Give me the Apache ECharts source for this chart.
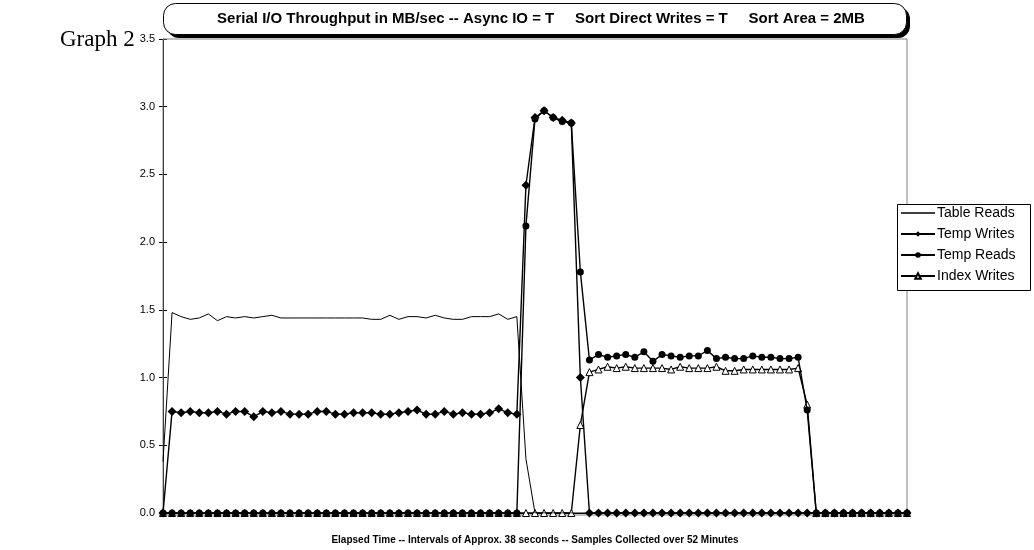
<!DOCTYPE html>
<html>
<head>
<meta charset="utf-8">
<title>Serial I/O Throughput</title>
<script src="https://cdn.jsdelivr.net/npm/echarts@6/dist/echarts.min.js"></script>
<style>
  html, body { margin: 0; padding: 0; background: #fff; }
  #chart { width: 1034px; height: 550px; }
</style>
</head>
<body>
<div id="chart"></div>
<script>
// Samples taken roughly every 38 seconds over 52 minutes
const sampleCount = 83;
const categories = Array.from({ length: sampleCount }, (_, i) => String(i + 1));

const yTicks = [0, 0.5, 1.0, 1.5, 2.0, 2.5, 3.0, 3.5];

const tableReads = [
  0.38,
  1.48, 1.45, 1.43, 1.44, 1.47, 1.42, 1.45, 1.44, 1.45, 1.44,
  1.45, 1.46, 1.44, 1.44, 1.44, 1.44, 1.44, 1.44, 1.44, 1.44,
  1.44, 1.44, 1.43, 1.43, 1.46, 1.43, 1.45, 1.45, 1.44, 1.46,
  1.44, 1.43, 1.43, 1.45, 1.45, 1.45, 1.47, 1.43, 1.45,
  0.40,
  0, 0, 0, 0, 0, 0, 0, 0, 0, 0, 0, 0, 0, 0, 0, 0, 0, 0, 0, 0, 0,
  0, 0, 0, 0, 0, 0, 0, 0, 0, 0, 0, 0, 0, 0, 0, 0, 0, 0, 0, 0, 0
];

const tempWrites = [
  0,
  0.75, 0.74, 0.75, 0.74, 0.74, 0.75, 0.73, 0.75, 0.75, 0.71,
  0.75, 0.74, 0.75, 0.73, 0.73, 0.73, 0.75, 0.75, 0.73, 0.73,
  0.74, 0.74, 0.74, 0.73, 0.73, 0.74, 0.75, 0.76, 0.73, 0.73,
  0.75, 0.73, 0.74, 0.73, 0.73, 0.74, 0.77, 0.74, 0.73,
  2.42, 2.92, 2.97, 2.92, 2.90, 2.88, 1.00,
  0, 0, 0, 0, 0, 0, 0, 0, 0, 0, 0, 0, 0, 0, 0, 0, 0, 0,
  0, 0, 0, 0, 0, 0, 0, 0, 0, 0, 0, 0, 0, 0, 0, 0, 0, 0
];

const tempReads = [
  0, 0, 0, 0, 0, 0, 0, 0, 0, 0, 0, 0, 0, 0, 0, 0, 0, 0, 0, 0,
  0, 0, 0, 0, 0, 0, 0, 0, 0, 0, 0, 0, 0, 0, 0, 0, 0, 0, 0, 0,
  2.12, 2.91, 2.97, 2.92, 2.89, 2.88, 1.78,
  1.13, 1.17, 1.15, 1.16, 1.17, 1.15, 1.19, 1.12, 1.17, 1.16,
  1.15, 1.16, 1.16, 1.20, 1.14, 1.15, 1.14, 1.14, 1.16, 1.15,
  1.15, 1.14, 1.14, 1.15,
  0.76,
  0, 0, 0, 0, 0, 0, 0, 0, 0, 0, 0
];

const indexWrites = [
  0, 0, 0, 0, 0, 0, 0, 0, 0, 0, 0, 0, 0, 0, 0, 0, 0, 0, 0, 0,
  0, 0, 0, 0, 0, 0, 0, 0, 0, 0, 0, 0, 0, 0, 0, 0, 0, 0, 0, 0,
  0, 0, 0, 0, 0, 0, 0.65,
  1.04, 1.06, 1.08, 1.07, 1.08, 1.07, 1.07, 1.07, 1.07, 1.06,
  1.08, 1.07, 1.07, 1.07, 1.08, 1.05, 1.05, 1.06, 1.06, 1.06,
  1.06, 1.06, 1.06, 1.07,
  0.80,
  0, 0, 0, 0, 0, 0, 0, 0, 0, 0, 0
];

const seriesNames = ['Table Reads', 'Temp Writes', 'Temp Reads', 'Index Writes'];

const chart = echarts.init(document.getElementById('chart'), null, { renderer: 'canvas' });

const plot = { left: 163, top: 39, right: 907, bottom: 515 };
const sansFont = '"Liberation Sans", Arial, sans-serif';

function lineSeries(name, data, symbol, size, itemStyle, width, z) {
  return {
    name: name,
    type: 'line',
    data: data,
    symbol: symbol,
    symbolSize: size,
    showSymbol: symbol !== 'none',
    showAllSymbol: true,
    itemStyle: itemStyle,
    lineStyle: { color: '#000', width: width },
    emphasis: { disabled: true },
    animation: false,
    z: z
  };
}

chart.setOption({
  animation: false,
  backgroundColor: '#fff',
  graphic: [
    {
      type: 'text',
      left: 60,
      top: 28,
      style: { text: 'Graph 2', font: '23px "Liberation Serif", "Times New Roman", serif', fill: '#000' }
    },
    // title box with heavy drop shadow
    {
      type: 'rect',
      shape: { x: 167, y: 7, width: 743, height: 31, r: 12 },
      style: { fill: '#000' },
      z: 10
    },
    {
      type: 'rect',
      shape: { x: 163.5, y: 3.5, width: 743, height: 31, r: 12 },
      style: { fill: '#fff', stroke: '#000', lineWidth: 1 },
      z: 11
    },
    {
      type: 'text',
      x: 541,
      y: 19,
      style: {
        text: 'Serial I/O Throughput in MB/sec -- Async IO = T     Sort Direct Writes = T     Sort Area = 2MB',
        font: 'bold 15px ' + sansFont,
        fill: '#000',
        align: 'center',
        verticalAlign: 'middle'
      },
      z: 12
    },
    // plot area frame
    {
      type: 'rect',
      shape: { x: plot.left, y: plot.top, width: plot.right - plot.left, height: plot.bottom - plot.top },
      style: { fill: 'none', stroke: '#808080', lineWidth: 1 },
      z: 1
    },
    // legend frame
    {
      type: 'rect',
      shape: { x: 897.5, y: 204.5, width: 133, height: 86 },
      style: { fill: '#fff', stroke: '#000', lineWidth: 1 },
      z: 4
    }
  ],
  legend: {
    orient: 'vertical',
    left: 895,
    top: 201,
    itemGap: 7,
    itemWidth: 34,
    itemHeight: 7,
    textStyle: { fontFamily: sansFont, fontSize: 14, lineHeight: 14, color: '#000', padding: [0, 0, 0, -3] },
    data: [
      { name: seriesNames[0], icon: 'path://M0,0L34,0L34,1.6L0,1.6Z' },
      { name: seriesNames[1] },
      { name: seriesNames[2] },
      { name: seriesNames[3] }
    ],
    z: 5
  },
  grid: { left: plot.left, top: plot.top, right: 1034 - plot.right, bottom: 550 - plot.bottom },
  xAxis: {
    type: 'category',
    data: categories,
    boundaryGap: false,
    axisLine: { lineStyle: { color: '#000', width: 1 } },
    axisTick: { show: false },
    axisLabel: { show: false },
    splitLine: { show: false },
    name: 'Elapsed Time -- Intervals of Approx. 38 seconds -- Samples Collected over 52 Minutes',
    nameLocation: 'middle',
    nameGap: 22,
    nameTextStyle: { fontFamily: sansFont, fontSize: 10, fontWeight: 'bold', color: '#000' }
  },
  yAxis: [
    {
      type: 'value',
      min: 0,
      max: 3.5,
      interval: 0.5,
      axisLine: { show: true, lineStyle: { color: '#000', width: 1 } },
      axisTick: { show: true, length: 4, lineStyle: { color: '#000' } },
      axisLabel: {
        fontFamily: sansFont,
        fontSize: 11,
        color: '#000',
        margin: 8,
        formatter: v => (yTicks.indexOf(v) >= 0 ? v.toFixed(1) : '')
      },
      splitLine: { show: false }
    },
    {
      // inner half of the crossing tick marks
      type: 'value',
      position: 'left',
      min: 0,
      max: 3.5,
      interval: 0.5,
      axisLine: { show: false },
      axisTick: { show: true, inside: true, length: 4, lineStyle: { color: '#000' } },
      axisLabel: { show: false },
      splitLine: { show: false }
    }
  ],
  series: [
    lineSeries(seriesNames[0], tableReads, 'none', 0, { color: '#000' }, 1, 3),
    lineSeries(seriesNames[1], tempWrites, 'diamond', 9, { color: '#000', borderWidth: 0 }, 1.4, 3),
    lineSeries(seriesNames[2], tempReads, 'circle', 7, { color: '#000', borderWidth: 0 }, 1.4, 3),
    // drawn beneath the filled markers where the series share zero values
    lineSeries(seriesNames[3], indexWrites, 'triangle', 7, { color: '#fff', borderColor: '#000', borderWidth: 1 }, 1.4, 2)
  ]
});
</script>
</body>
</html>
